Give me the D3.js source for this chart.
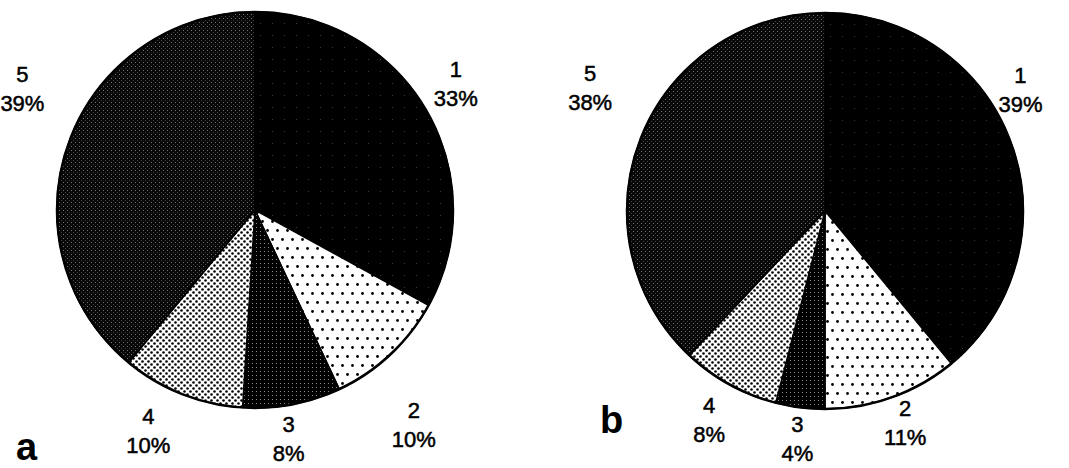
<!DOCTYPE html>
<html lang="en">
<head>
<meta charset="UTF-8">
<title>Pie charts a and b</title>
<style>
    body { margin: 0; background: #fff; overflow: hidden; }
    text { font-family: "Liberation Sans", Arial, sans-serif; fill: #000; }
    .lbl text { font-size: 22px; stroke: #000; stroke-width: 0.5px; }
    .tag { font-size: 38px; font-weight: bold; }
</style>
</head>
<body>
<svg width="1069" height="468"></svg>
<script src="https://d3js.org/d3.v7.min.js"></script>
<script>
// data
const categories = ["1", "2", "3", "4", "5"];
const valuesA = [33, 10, 8, 10, 39];
const valuesB = [39, 11, 4, 8, 38];
const panelTags = ["a", "b"];

const svg = d3.select("svg");
const defs = svg.append("defs");

// fill patterns, one per category
function pat(id, w, h, bg) {
    const p = defs.append("pattern").attr("id", id)
        .attr("patternUnits", "userSpaceOnUse").attr("width", w).attr("height", h);
    p.append("rect").attr("width", w).attr("height", h).attr("fill", bg);
    return p;
}
// 1: solid black, faint specks
let p = pat("p1", 12, 12, "#000");
p.append("rect").attr("x", 5).attr("y", 5).attr("width", 1).attr("height", 1).attr("fill", "#3a3a3a");
// 2: white, sparse black dots
p = pat("p2", 10, 18, "#fff");
p.append("circle").attr("cx", 2.5).attr("cy", 2.5).attr("r", 1.4).attr("fill", "#000");
p.append("circle").attr("cx", 7.5).attr("cy", 11.5).attr("r", 1.4).attr("fill", "#000");
// 3: black with fine white dots
p = pat("p3", 4, 4, "#000");
p.append("rect").attr("x", 1).attr("y", 1).attr("width", 1).attr("height", 1).attr("fill", "#8a8a8a");
// 4: white, dense black dots
p = pat("p4", 6, 6, "#fff");
p.append("circle").attr("cx", 1.5).attr("cy", 1.5).attr("r", 1.3).attr("fill", "#000");
p.append("circle").attr("cx", 4.5).attr("cy", 4.5).attr("r", 1.3).attr("fill", "#000");
// 5: dark grey screen
p = pat("p5", 4, 4, "#080808");
p.append("rect").attr("x", 0).attr("y", 0).attr("width", 1).attr("height", 1).attr("fill", "#777");
p.append("rect").attr("x", 2).attr("y", 2).attr("width", 1).attr("height", 1).attr("fill", "#444");

const fillScale = d3.scaleOrdinal().domain(categories)
    .range(["url(#p1)", "url(#p2)", "url(#p3)", "url(#p4)", "url(#p5)"]);

const pie = d3.pie().sort(null).value(d => d.value);
const radius = 198;
const arc = d3.arc().innerRadius(0).outerRadius(radius);

// layout: pie centres, label angle nudges (deg) and label distances
const panels = [
    { values: valuesA, cx: 255, cy: 210, tag: [16, 460],
      nudge: [-1.5, 6.7, 2.4, 4.2, 7.6], dist: [237, 267, 231, 245, 262] },
    { values: valuesB, cx: 825, cy: 211, tag: [600, 433],
      nudge: [-12, -0.9, -0.3, 0.2, 6], dist: [230, 227, 230, 239, 265] }
];

panels.forEach((cfg, k) => {
    const data = categories.map((c, i) => ({ label: c, value: cfg.values[i] }));
    const g = svg.append("g").attr("transform", `translate(${cfg.cx},${cfg.cy})`);

    g.selectAll("path.slice").data(pie(data)).enter()
        .append("path")
        .attr("class", "slice")
        .attr("d", arc)
        .attr("fill", d => fillScale(d.data.label))
        .attr("stroke", "#000")
        .attr("stroke-width", 1.5)
        .attr("stroke-linejoin", "round");

    g.append("circle").attr("r", radius).attr("fill", "none")
        .attr("stroke", "#000").attr("stroke-width", 2.5);

    const lbl = g.selectAll("g.lbl").data(pie(data)).enter()
        .append("g").attr("class", "lbl")
        .attr("transform", (d, i) => {
            const a = (d.startAngle + d.endAngle) / 2 + cfg.nudge[i] * Math.PI / 180;
            const r = cfg.dist[i];
            return `translate(${r * Math.sin(a)},${-r * Math.cos(a)})`;
        });
    lbl.append("text").attr("text-anchor", "middle").attr("y", -7)
        .text(d => d.data.label);
    lbl.append("text").attr("text-anchor", "middle").attr("y", 22)
        .text(d => d.data.value + "%");

    svg.append("text").attr("class", "tag")
        .attr("x", cfg.tag[0]).attr("y", cfg.tag[1])
        .text(panelTags[k]);
});
</script>
</body>
</html>
